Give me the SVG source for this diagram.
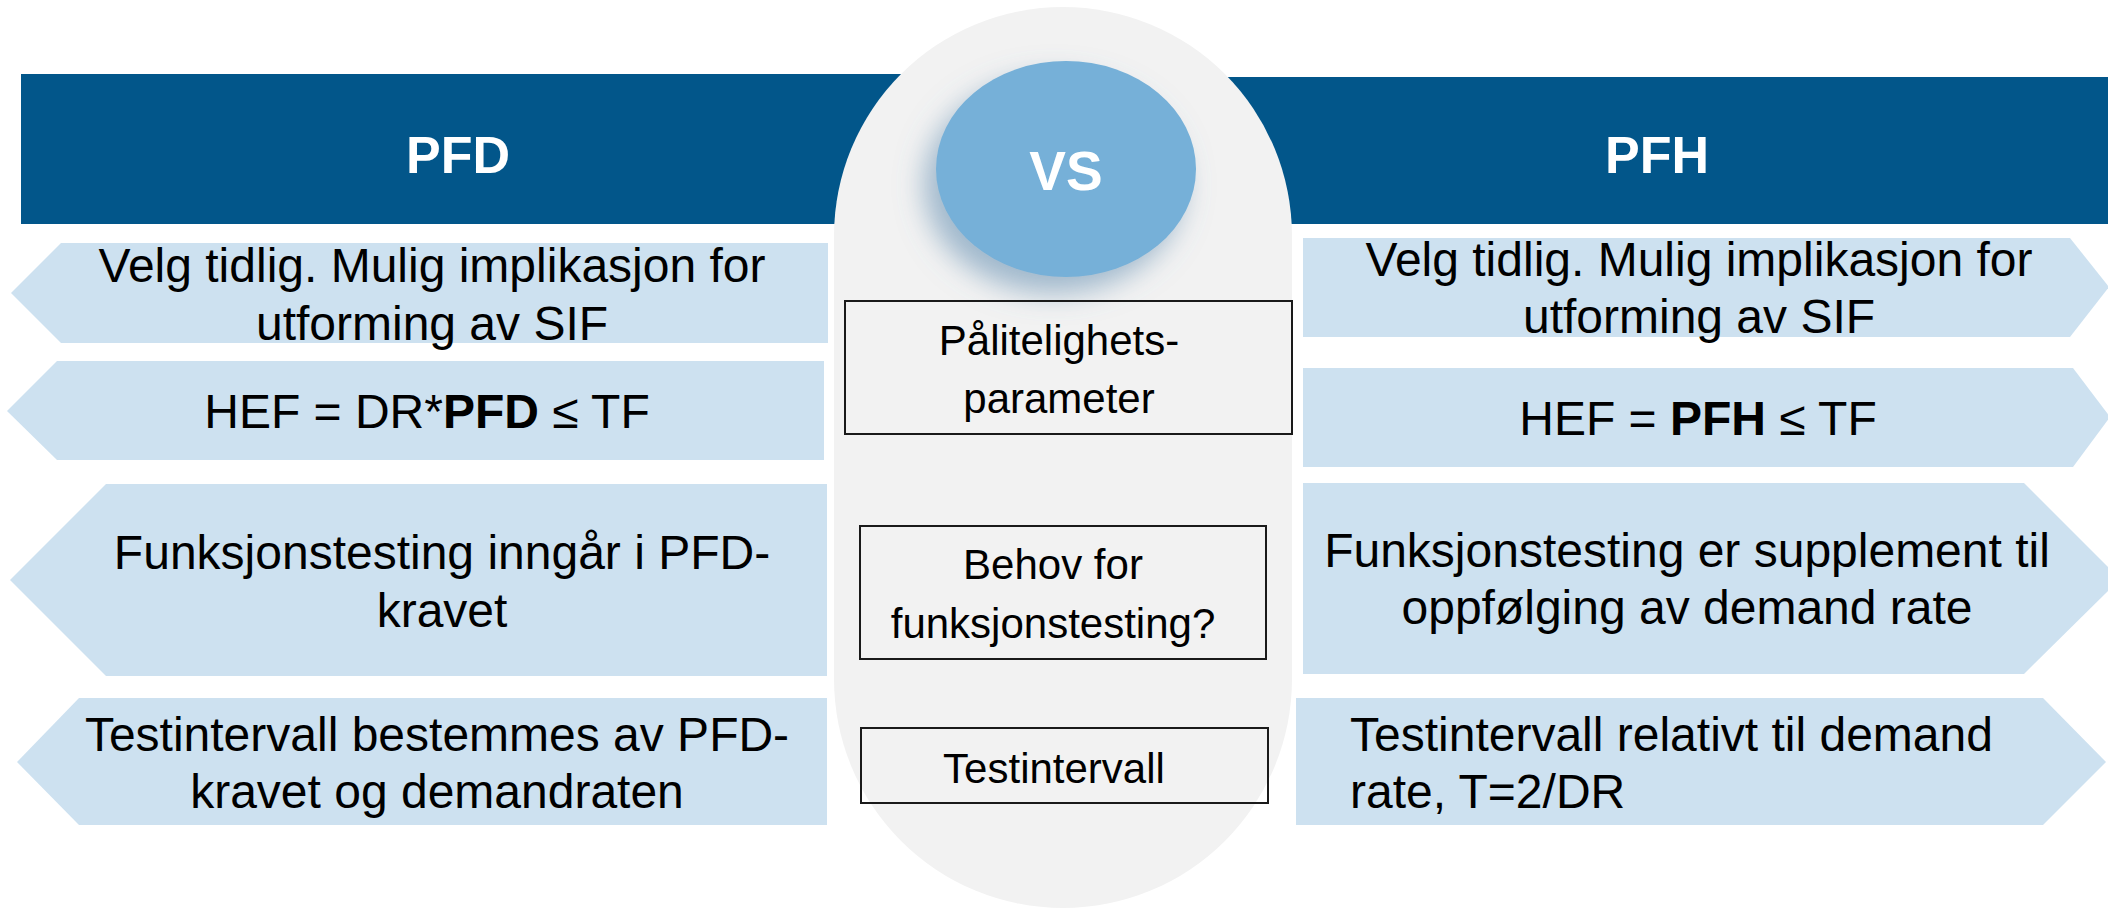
<svg xmlns="http://www.w3.org/2000/svg" width="2108" height="909" viewBox="0 0 2108 909">
<style>
text{font-family:"Liberation Sans",Arial,"Helvetica",sans-serif;}
.hdr{fill:#02568A;}
.hdrt{fill:#ffffff;font-size:52px;font-weight:bold;text-anchor:middle;}
.arr{fill:#CDE1F0;}
.t48{fill:#000000;font-size:48px;}
.c{text-anchor:middle;}
.box{fill:none;stroke:#1a1a1a;stroke-width:2;}
.t42{fill:#000000;font-size:42px;text-anchor:middle;}
</style>
<defs>
<filter id="sh" x="-40%" y="-40%" width="180%" height="180%">
<feGaussianBlur in="SourceAlpha" stdDeviation="14"/>
<feOffset dx="-12" dy="16" result="b"/>
<feFlood flood-color="#5b88ad" flood-opacity="0.55"/>
<feComposite in2="b" operator="in"/>
<feMerge><feMergeNode/><feMergeNode in="SourceGraphic"/></feMerge>
</filter>
</defs>
<rect width="2108" height="909" fill="#ffffff"/>
<g id="header-pfd">
<rect class="hdr" x="21" y="74" width="880" height="150"/>
<text class="hdrt" x="458" y="173">PFD</text>
</g>
<g id="header-pfh">
<rect class="hdr" x="1200" y="77" width="908" height="147"/>
<text class="hdrt" x="1657" y="173">PFH</text>
</g>
<g id="center-pill">
<rect x="834" y="7" width="458" height="901" rx="229" ry="229" fill="#F2F2F2"/>
</g>
<g id="vs">
<ellipse cx="1066" cy="169" rx="130" ry="108" fill="#76B0D8" filter="url(#sh)"/>
<text x="1066" y="190" fill="#ffffff" font-size="55" font-weight="bold" text-anchor="middle">VS</text>
</g>
<g id="left-1">
<polygon class="arr" points="828,243 61,243 11,293 61,343 828,343"/>
<text class="t48 c" x="432" y="282">Velg tidlig. Mulig implikasjon for</text>
<text class="t48 c" x="432" y="340">utforming av SIF</text>
</g>
<g id="left-2">
<polygon class="arr" points="824,361 57,361 7,411 57,460 824,460"/>
<text class="t48 c" x="427" y="428">HEF = DR*<tspan font-weight="bold">PFD</tspan> ≤ TF</text>
</g>
<g id="left-3">
<polygon class="arr" points="827,484 106,484 10,580 106,676 827,676"/>
<text class="t48 c" x="442" y="569">Funksjonstesting inngår i PFD-</text>
<text class="t48 c" x="442" y="627">kravet</text>
</g>
<g id="left-4">
<polygon class="arr" points="827,698 79,698 17,762 79,825 827,825"/>
<text class="t48 c" x="437" y="751">Testintervall bestemmes av PFD-</text>
<text class="t48 c" x="437" y="808">kravet og demandraten</text>
</g>
<g id="right-1">
<polygon class="arr" points="1303,238 2070,238 2109,287 2070,337 1303,337"/>
<text class="t48 c" x="1699" y="276">Velg tidlig. Mulig implikasjon for</text>
<text class="t48 c" x="1699" y="333">utforming av SIF</text>
</g>
<g id="right-2">
<polygon class="arr" points="1303,368 2073,368 2110,417 2073,467 1303,467"/>
<text class="t48 c" x="1698" y="435">HEF = <tspan font-weight="bold">PFH</tspan> ≤ TF</text>
</g>
<g id="right-3">
<polygon class="arr" points="1303,483 2024,483 2120,579 2024,674 1303,674"/>
<text class="t48 c" x="1687" y="567">Funksjonstesting er supplement til</text>
<text class="t48 c" x="1687" y="624">oppfølging av demand rate</text>
</g>
<g id="right-4">
<polygon class="arr" points="1296,698 2043,698 2106,762 2043,825 1296,825"/>
<text class="t48" x="1350" y="751">Testintervall relativt til demand</text>
<text class="t48" x="1350" y="808">rate, T=2/DR</text>
</g>
<g id="box-parameter">
<rect class="box" x="845" y="301" width="447" height="133"/>
<text class="t42" x="1059" y="355">Pålitelighets-</text>
<text class="t42" x="1059" y="413">parameter</text>
</g>
<g id="box-behov">
<rect class="box" x="860" y="526" width="406" height="133"/>
<text class="t42" x="1053" y="579">Behov for</text>
<text class="t42" x="1053" y="638">funksjonstesting?</text>
</g>
<g id="box-testintervall">
<rect class="box" x="861" y="728" width="407" height="75"/>
<text class="t42" x="1054" y="783">Testintervall</text>
</g>
<g id="connectors"/>
</svg>
